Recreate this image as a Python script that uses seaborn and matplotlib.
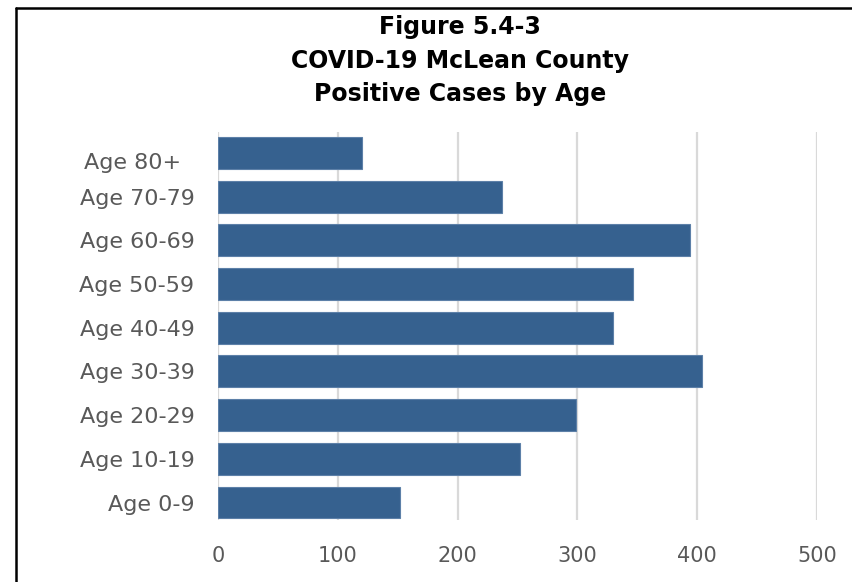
import matplotlib
matplotlib.use("Agg")
import matplotlib.pyplot as plt
from matplotlib.lines import Line2D
import seaborn as sns
import pandas as pd

# Positive COVID-19 cases by age group, McLean County
age_groups = ["Age 80+", "Age 70-79", "Age 60-69", "Age 50-59", "Age 40-49",
              "Age 30-39", "Age 20-29", "Age 10-19", "Age 0-9"]
cases = [120, 237, 394, 346, 330, 404, 299, 252, 152]
x_ticks = [0, 100, 200, 300, 400, 500]
title_lines = ["Figure 5.4-3", "COVID-19 McLean County", "Positive Cases by Age"]

df = pd.DataFrame({"age": age_groups, "cases": cases})

sns.set_theme(style="white")
plt.rcParams["font.family"] = ["DejaVu Sans"]

W, H, DPI = 853, 582, 100
fig = plt.figure(figsize=(W / DPI, H / DPI), dpi=DPI)
fig.patch.set_facecolor("white")

ax = fig.add_axes([218 / W, 1 - 520 / H, (817 - 218) / W, (520 - 132) / H])

bar_color = "#36618f"
sns.barplot(data=df, x="cases", y="age", order=age_groups, color=bar_color,
            width=0.73, edgecolor="#5d80a8", linewidth=0.8, saturation=1,
            ax=ax, zorder=3)

ax.set_xlim(0, 500)
ax.set_ylim(8.40, -0.48)
ax.set_xticks(x_ticks)
ax.set_xticklabels([str(t) for t in x_ticks])
ax.xaxis.grid(True, color="#d9d9d9", linewidth=1.6, zorder=0)
ax.yaxis.grid(False)
ax.set_axisbelow(True)
for s in ax.spines.values():
    s.set_visible(False)
ax.set_xlabel("")
ax.set_ylabel("")

text_gray = "#595959"
ax.tick_params(axis="x", length=0, pad=19, labelsize=15, labelcolor=text_gray)
ax.tick_params(axis="y", length=0, pad=17, labelsize=16, labelcolor=text_gray)

# The oldest group's label sits a little apart from its bar
ax.set_yticks(range(len(age_groups)))
ax.set_yticklabels([""] + age_groups[1:])
fig.text(181 / W, 1 - 163 / H, age_groups[0], ha="right", va="center",
         fontsize=16, color=text_gray)

# Title block
title_y = [27, 61, 94]
for line, y in zip(title_lines, title_y):
    fig.text(460 / W, 1 - y / H, line, ha="center", va="center",
             fontsize=17, fontweight="bold", color="black")

# Chart frame
fig.add_artist(Line2D([16 / W, 16 / W], [1 - 8 / H, 0], color="black",
                      linewidth=1.8, transform=fig.transFigure))
fig.add_artist(Line2D([16 / W, 1], [1 - 8 / H, 1 - 8 / H], color="black",
                      linewidth=1.8, transform=fig.transFigure))

fig.savefig("out.png", dpi=DPI, facecolor="white")
